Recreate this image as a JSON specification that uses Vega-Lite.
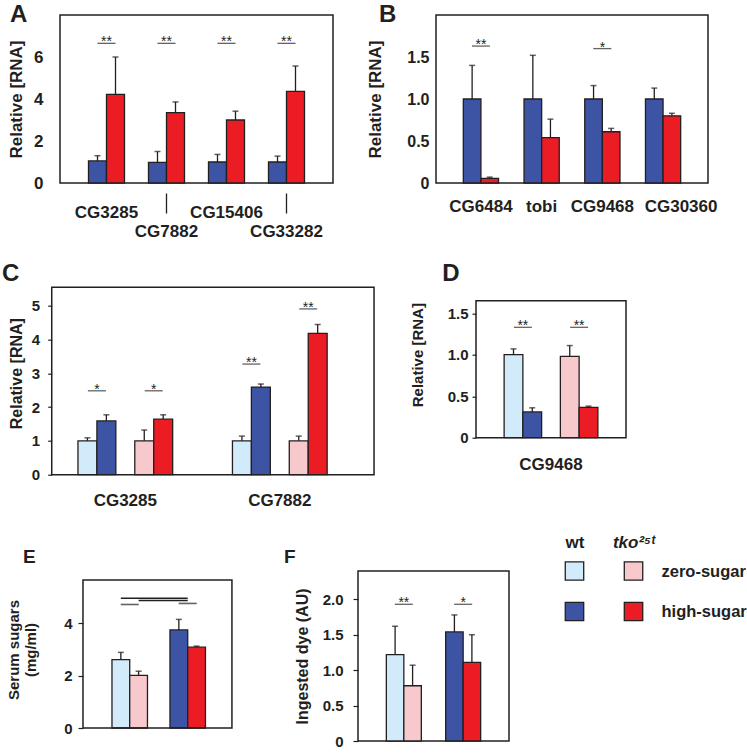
{
  "$schema": "https://vega.github.io/schema/vega-lite/v6.json",
  "background": "white",
  "padding": {"left": 2, "top": 2, "right": 0, "bottom": 0},
  "config": {
    "font": "Liberation Sans",
    "view": {"stroke": "#231F20", "strokeWidth": 1.5},
    "axis": {"grid": false, "domain": false, "labelFontWeight": "bold", "titleFontWeight": "bold", "labelColor": "#231F20", "titleColor": "#231F20", "tickColor": "#231F20", "tickWidth": 1.2, "labelFont": "Liberation Sans", "titleFont": "Liberation Sans"},
    "title": {"fontSize": 24, "fontWeight": "bold", "anchor": "start", "frame": "group", "offset": 0, "baseline": "alphabetic", "color": "#231F20", "font": "Liberation Sans"}
  },
  "datasets": {
    "A": [
      {"gene": "CG3285", "g": "wh", "v": 1.05, "hi": 1.3},
      {"gene": "CG3285", "g": "th", "v": 4.22, "hi": 6.0},
      {"gene": "CG7882", "g": "wh", "v": 0.98, "hi": 1.5},
      {"gene": "CG7882", "g": "th", "v": 3.35, "hi": 3.86},
      {"gene": "CG15406", "g": "wh", "v": 1.0, "hi": 1.36},
      {"gene": "CG15406", "g": "th", "v": 3.0, "hi": 3.42},
      {"gene": "CG33282", "g": "wh", "v": 1.0, "hi": 1.28},
      {"gene": "CG33282", "g": "th", "v": 4.36, "hi": 5.57}
    ],
    "Asig": [
      {"gene": "CG3285", "cmp": "pair", "y": 6.65, "s": "**"},
      {"gene": "CG7882", "cmp": "pair", "y": 6.65, "s": "**"},
      {"gene": "CG15406", "cmp": "pair", "y": 6.65, "s": "**"},
      {"gene": "CG33282", "cmp": "pair", "y": 6.65, "s": "**"}
    ],
    "B": [
      {"gene": "CG6484", "g": "wh", "v": 1.0, "hi": 1.4},
      {"gene": "CG6484", "g": "th", "v": 0.055, "hi": 0.07},
      {"gene": "tobi", "g": "wh", "v": 1.0, "hi": 1.52},
      {"gene": "tobi", "g": "th", "v": 0.54, "hi": 0.76},
      {"gene": "CG9468", "g": "wh", "v": 1.0, "hi": 1.16},
      {"gene": "CG9468", "g": "th", "v": 0.61, "hi": 0.65},
      {"gene": "CG30360", "g": "wh", "v": 1.0, "hi": 1.13},
      {"gene": "CG30360", "g": "th", "v": 0.8, "hi": 0.83}
    ],
    "Bsig": [
      {"gene": "CG6484", "cmp": "pair", "y": 1.63, "s": "**"},
      {"gene": "CG9468", "cmp": "pair", "y": 1.6, "s": "*"}
    ],
    "C": [
      {"gene": "CG3285", "g": "wz", "v": 1.0, "hi": 1.09},
      {"gene": "CG3285", "g": "wh", "v": 1.59, "hi": 1.77},
      {"gene": "CG3285", "g": "tz", "v": 1.0, "hi": 1.32},
      {"gene": "CG3285", "g": "th", "v": 1.64, "hi": 1.77},
      {"gene": "CG7882", "g": "wz", "v": 1.0, "hi": 1.14},
      {"gene": "CG7882", "g": "wh", "v": 2.59, "hi": 2.68},
      {"gene": "CG7882", "g": "tz", "v": 1.0, "hi": 1.14},
      {"gene": "CG7882", "g": "th", "v": 4.18, "hi": 4.44}
    ],
    "Csig": [
      {"gene": "CG3285", "geno": "wt", "y": 2.48, "s": "*"},
      {"gene": "CG3285", "geno": "tko", "y": 2.48, "s": "*"},
      {"gene": "CG7882", "geno": "wt", "y": 3.27, "s": "**"},
      {"gene": "CG7882", "geno": "tko", "y": 4.9, "s": "**"}
    ],
    "D": [
      {"gene": "CG9468", "g": "wz", "v": 1.0, "hi": 1.07},
      {"gene": "CG9468", "g": "wh", "v": 0.31, "hi": 0.36},
      {"gene": "CG9468", "g": "tz", "v": 0.98, "hi": 1.11},
      {"gene": "CG9468", "g": "th", "v": 0.365, "hi": 0.38}
    ],
    "Dsig": [
      {"gene": "CG9468", "geno": "wt", "y": 1.33, "s": "**"},
      {"gene": "CG9468", "geno": "tko", "y": 1.33, "s": "**"}
    ],
    "E": [
      {"sugar": "zero", "geno": "wt", "g": "wz", "v": 2.61, "hi": 2.89},
      {"sugar": "zero", "geno": "tko", "g": "tz", "v": 2.01, "hi": 2.17},
      {"sugar": "high", "geno": "wt", "g": "wh", "v": 3.75, "hi": 4.15},
      {"sugar": "high", "geno": "tko", "g": "th", "v": 3.09, "hi": 3.13}
    ],
    "Esig": [
      {"s1": "zero", "s2": "high", "geno": "wt", "y": 4.96},
      {"s1": "zero", "s2": "high", "geno": "tko", "y": 4.87}
    ],
    "Etick": [
      {"sugar": "zero", "cmp": "pair", "y": 4.72},
      {"sugar": "high", "cmp": "pair", "y": 4.76}
    ],
    "F": [
      {"sugar": "zero", "geno": "wt", "g": "wz", "v": 1.22, "hi": 1.62},
      {"sugar": "zero", "geno": "tko", "g": "tz", "v": 0.78, "hi": 1.07},
      {"sugar": "high", "geno": "wt", "g": "wh", "v": 1.54, "hi": 1.78},
      {"sugar": "high", "geno": "tko", "g": "th", "v": 1.11, "hi": 1.5}
    ],
    "Fsig": [
      {"sugar": "zero", "cmp": "pair", "y": 1.93, "s": "**"},
      {"sugar": "high", "cmp": "pair", "y": 1.93, "s": "*"}
    ],
    "L": [
      {"geno": "wt", "sugar": "zero", "g": "wz"},
      {"geno": "tko", "sugar": "zero", "g": "tz"},
      {"geno": "wt", "sugar": "high", "g": "wh"},
      {"geno": "tko", "sugar": "high", "g": "th"}
    ]
  },
  "spacing": 24,
  "vconcat": [
    {
      "spacing": 21.7,
      "vconcat": [
        {
          "spacing": 32,
          "hconcat": [
            {
              "title": {"text": "A", "dx": -50, "dy": 16},
              "width": 273, "height": 168,
              "resolve": {"scale": {"xOffset": "independent"}},
              "layer": [
                {
                  "data": {"name": "A"},
                  "layer": [
                    {
                      "mark": {"type": "bar", "stroke": "#231F20", "strokeWidth": 1.3},
                      "encoding": {
                        "x": {"field": "gene", "type": "nominal", "scale": {"domain": ["CG3285", "CG7882", "CG15406", "CG33282"], "paddingInner": 0.4, "paddingOuter": 0.475},
                          "axis": {"title": null, "labelAngle": 0, "labelFontSize": 17, "labelBaseline": "top", "ticks": true, "tickWidth": 1.3, "tickDash": [0, 10, 20, 0],
                            "tickSize": {"condition": {"test": "datum.value == 'CG7882' || datum.value == 'CG33282'", "value": 30}, "value": 0},
                            "labelPadding": {"condition": {"test": "datum.value == 'CG7882' || datum.value == 'CG33282'", "value": 10}, "value": 21}}},
                        "xOffset": {"field": "g", "type": "nominal", "scale": {"domain": ["wh", "th"]}},
                        "y": {"field": "v", "type": "quantitative", "scale": {"domain": [0, 7.43]},
                          "axis": {"values": [0, 2, 4, 6], "ticks": false, "labelPadding": 17, "labelFontSize": 17, "title": "Relative [RNA]", "titleFontSize": 17, "titlePadding": 8}},
                        "color": {"field": "g", "type": "nominal", "legend": null, "scale": {"domain": ["wz", "wh", "tz", "th"], "range": ["#D2EBFA", "#3D54A4", "#F7C9CD", "#EC1C24"]}}
                      }
                    },
                    {
                      "mark": {"type": "rule", "strokeWidth": 1.3, "color": "#231F20"},
                      "encoding": {"x": {"field": "gene", "type": "nominal"}, "xOffset": {"field": "g", "type": "nominal"}, "y": {"field": "v", "type": "quantitative"}, "y2": {"field": "hi"}}
                    },
                    {
                      "mark": {"type": "tick", "size": 6, "thickness": 1.5, "color": "#231F20"},
                      "encoding": {"x": {"field": "gene", "type": "nominal"}, "xOffset": {"field": "g", "type": "nominal"}, "y": {"field": "hi", "type": "quantitative"}}
                    }
                  ]
                },
                {
                  "data": {"name": "Asig"},
                  "layer": [
                    {
                      "mark": {"type": "tick", "size": 18, "thickness": 1.3, "color": "#231F20"},
                      "encoding": {"x": {"field": "gene", "type": "nominal"}, "xOffset": {"field": "cmp", "type": "nominal", "scale": {"domain": ["pair"], "paddingInner": 0, "paddingOuter": 0}}, "y": {"field": "y", "type": "quantitative"}}
                    },
                    {
                      "mark": {"type": "text", "fontSize": 14, "dy": 3, "baseline": "alphabetic", "color": "#231F20"},
                      "encoding": {"x": {"field": "gene", "type": "nominal"}, "xOffset": {"field": "cmp", "type": "nominal"}, "y": {"field": "y", "type": "quantitative"}, "text": {"field": "s"}}
                    }
                  ]
                }
              ]
            },
            {
              "title": {"text": "B", "dx": -57, "dy": 16},
              "width": 272, "height": 168,
              "resolve": {"scale": {"xOffset": "independent"}},
              "layer": [
                {
                  "data": {"name": "B"},
                  "layer": [
                    {
                      "mark": {"type": "bar", "stroke": "#231F20", "strokeWidth": 1.3},
                      "encoding": {
                        "x": {"field": "gene", "type": "nominal", "scale": {"domain": ["CG6484", "tobi", "CG9468", "CG30360"], "paddingInner": 0.42, "paddingOuter": 0.45},
                          "axis": {"title": null, "labelAngle": 0, "labelFontSize": 17, "ticks": false, "labelPadding": 15,
                            "labelOffset": {"condition": {"test": "datum.value == 'CG30360'", "value": 18}, "value": 0}}},
                        "xOffset": {"field": "g", "type": "nominal", "scale": {"domain": ["wh", "th"]}},
                        "y": {"field": "v", "type": "quantitative", "scale": {"domain": [0, 1.87]},
                          "axis": {"values": [0, 0.5, 1, 1.5], "labelExpr": "datum.value == 0 ? '0' : format(datum.value, '.1f')", "ticks": false, "labelPadding": 7, "labelFontSize": 16, "title": "Relative [RNA]", "titleFontSize": 17, "titlePadding": 22}},
                        "color": {"field": "g", "type": "nominal", "legend": null, "scale": {"domain": ["wz", "wh", "tz", "th"], "range": ["#D2EBFA", "#3D54A4", "#F7C9CD", "#EC1C24"]}}
                      }
                    },
                    {
                      "mark": {"type": "rule", "strokeWidth": 1.3, "color": "#231F20"},
                      "encoding": {"x": {"field": "gene", "type": "nominal"}, "xOffset": {"field": "g", "type": "nominal"}, "y": {"field": "v", "type": "quantitative"}, "y2": {"field": "hi"}}
                    },
                    {
                      "mark": {"type": "tick", "size": 6, "thickness": 1.5, "color": "#231F20"},
                      "encoding": {"x": {"field": "gene", "type": "nominal"}, "xOffset": {"field": "g", "type": "nominal"}, "y": {"field": "hi", "type": "quantitative"}}
                    }
                  ]
                },
                {
                  "data": {"name": "Bsig"},
                  "layer": [
                    {
                      "mark": {"type": "tick", "size": 18, "thickness": 1.3, "color": "#231F20"},
                      "encoding": {"x": {"field": "gene", "type": "nominal"}, "xOffset": {"field": "cmp", "type": "nominal", "scale": {"domain": ["pair"], "paddingInner": 0, "paddingOuter": 0}}, "y": {"field": "y", "type": "quantitative"}}
                    },
                    {
                      "mark": {"type": "text", "fontSize": 14, "dy": 3, "baseline": "alphabetic", "color": "#231F20"},
                      "encoding": {"x": {"field": "gene", "type": "nominal"}, "xOffset": {"field": "cmp", "type": "nominal"}, "y": {"field": "y", "type": "quantitative"}, "text": {"field": "s"}}
                    }
                  ]
                }
              ]
            }
          ]
        },
        {
          "spacing": 35,
          "hconcat": [
            {
              "title": {"text": "C", "dx": -58, "dy": 18.3},
              "width": 315, "height": 203,
              "view": {"stroke": null},
              "resolve": {"scale": {"xOffset": "independent"}},
              "layer": [
                {
                  "data": {"name": "C"},
                  "layer": [
                    {
                      "mark": {"type": "bar", "stroke": "#231F20", "strokeWidth": 1.3},
                      "encoding": {
                        "x": {"field": "gene", "type": "nominal", "scale": {"domain": ["CG3285", "CG7882"], "paddingInner": 0.387, "paddingOuter": 0.213, "align": 0.273},
                          "axis": {"title": null, "labelAngle": 0, "labelFontSize": 17, "ticks": false, "labelPadding": 18}},
                        "xOffset": {"field": "g", "type": "nominal", "scale": {"domain": ["wz", "wh", "gap", "tz", "th"]}},
                        "y": {"field": "v", "type": "quantitative", "scale": {"domain": [0, 5.54]},
                          "axis": {"offset": 8.3, "values": [0, 1, 2, 3, 4, 5], "ticks": true, "tickSize": 4, "labelPadding": 8, "labelFontSize": 15, "title": "Relative [RNA]", "titleFontSize": 16, "titlePadding": 7}},
                        "color": {"field": "g", "type": "nominal", "legend": null, "scale": {"domain": ["wz", "wh", "tz", "th"], "range": ["#D2EBFA", "#3D54A4", "#F7C9CD", "#EC1C24"]}}
                      }
                    },
                    {
                      "mark": {"type": "rule", "strokeWidth": 1.3, "color": "#231F20"},
                      "encoding": {"x": {"field": "gene", "type": "nominal"}, "xOffset": {"field": "g", "type": "nominal"}, "y": {"field": "v", "type": "quantitative"}, "y2": {"field": "hi"}}
                    },
                    {
                      "mark": {"type": "tick", "size": 6, "thickness": 1.5, "color": "#231F20"},
                      "encoding": {"x": {"field": "gene", "type": "nominal"}, "xOffset": {"field": "g", "type": "nominal"}, "y": {"field": "hi", "type": "quantitative"}}
                    }
                  ]
                },
                {
                  "data": {"values": [{}]},
                  "mark": {"type": "rect", "filled": false, "color": "#231F20", "strokeWidth": 1.5},
                  "encoding": {
                    "x": {"datum": "CG3285", "type": "nominal", "bandPosition": -0.277},
                    "x2": {"datum": "CG7882", "bandPosition": 1.495},
                    "y": {"datum": 5.54, "type": "quantitative"},
                    "y2": {"datum": 0}
                  }
                },
                {
                  "data": {"name": "Csig"},
                  "layer": [
                    {
                      "mark": {"type": "tick", "size": 18, "thickness": 1.3, "color": "#231F20"},
                      "encoding": {"x": {"field": "gene", "type": "nominal"}, "xOffset": {"field": "geno", "type": "nominal", "scale": {"domain": ["wt", "tko"], "paddingInner": 0.3333, "paddingOuter": 0}}, "y": {"field": "y", "type": "quantitative"}}
                    },
                    {
                      "mark": {"type": "text", "fontSize": 14, "dy": 3, "baseline": "alphabetic", "color": "#231F20"},
                      "encoding": {"x": {"field": "gene", "type": "nominal"}, "xOffset": {"field": "geno", "type": "nominal"}, "y": {"field": "y", "type": "quantitative"}, "text": {"field": "s"}}
                    }
                  ]
                }
              ]
            },
            {
              "title": {"text": "D", "dx": -33.7, "dy": 18.3},
              "width": 150, "height": 166,
              "view": {"stroke": null},
              "resolve": {"scale": {"xOffset": "independent"}},
              "layer": [
                {
                  "data": {"name": "D"},
                  "layer": [
                    {
                      "mark": {"type": "bar", "stroke": "#231F20", "strokeWidth": 1.3},
                      "encoding": {
                        "x": {"field": "gene", "type": "nominal", "scale": {"domain": ["CG9468"], "paddingInner": 0, "paddingOuter": 0.3},
                          "axis": {"title": null, "labelAngle": 0, "labelFontSize": 17, "ticks": false, "labelPadding": 19}},
                        "xOffset": {"field": "g", "type": "nominal", "scale": {"domain": ["wz", "wh", "gap", "tz", "th"]}},
                        "y": {"field": "v", "type": "quantitative", "scale": {"domain": [0, 1.814]},
                          "axis": {"values": [0, 0.5, 1, 1.5], "labelExpr": "datum.value == 0 ? '0' : format(datum.value, '.1f')", "ticks": true, "tickSize": 4, "labelPadding": 4, "labelFontSize": 15, "title": "Relative [RNA]", "titleFontSize": 15, "titlePadding": 22}},
                        "color": {"field": "g", "type": "nominal", "legend": null, "scale": {"domain": ["wz", "wh", "tz", "th"], "range": ["#D2EBFA", "#3D54A4", "#F7C9CD", "#EC1C24"]}}
                      }
                    },
                    {
                      "mark": {"type": "rule", "strokeWidth": 1.3, "color": "#231F20"},
                      "encoding": {"x": {"field": "gene", "type": "nominal"}, "xOffset": {"field": "g", "type": "nominal"}, "y": {"field": "v", "type": "quantitative"}, "y2": {"field": "hi"}}
                    },
                    {
                      "mark": {"type": "tick", "size": 6, "thickness": 1.5, "color": "#231F20"},
                      "encoding": {"x": {"field": "gene", "type": "nominal"}, "xOffset": {"field": "g", "type": "nominal"}, "y": {"field": "hi", "type": "quantitative"}}
                    }
                  ]
                },
                {
                  "data": {"values": [{}]},
                  "mark": {"type": "rect", "filled": false, "color": "#231F20", "strokeWidth": 1.5},
                  "encoding": {
                    "y": {"datum": 1.65, "type": "quantitative"},
                    "y2": {"datum": 0}
                  }
                },
                {
                  "data": {"name": "Dsig"},
                  "layer": [
                    {
                      "mark": {"type": "tick", "size": 18, "thickness": 1.3, "color": "#231F20"},
                      "encoding": {"x": {"field": "gene", "type": "nominal"}, "xOffset": {"field": "geno", "type": "nominal", "scale": {"domain": ["wt", "tko"], "paddingInner": 0.3333, "paddingOuter": 0}}, "y": {"field": "y", "type": "quantitative"}}
                    },
                    {
                      "mark": {"type": "text", "fontSize": 14, "dy": 3, "baseline": "alphabetic", "color": "#231F20"},
                      "encoding": {"x": {"field": "gene", "type": "nominal"}, "xOffset": {"field": "geno", "type": "nominal"}, "y": {"field": "y", "type": "quantitative"}, "text": {"field": "s"}}
                    }
                  ]
                }
              ]
            }
          ]
        }
      ]
    },
    {
      "spacing": 50,
      "hconcat": [
        {
          "title": {"text": "E", "dx": -37, "dy": 0, "fontSize": 19},
          "width": 172, "height": 157,
          "view": {"stroke": null},
          "resolve": {"scale": {"xOffset": "independent"}},
          "layer": [
            {
              "data": {"name": "E"},
              "layer": [
                {
                  "mark": {"type": "bar", "stroke": "#231F20", "strokeWidth": 1.3},
                  "encoding": {
                    "x": {"field": "sugar", "type": "nominal", "scale": {"domain": ["zero", "high"], "paddingInner": 0.388, "paddingOuter": 0.677, "align": 0.662}, "axis": null},
                    "xOffset": {"field": "geno", "type": "nominal", "scale": {"domain": ["wt", "tko"]}},
                    "y": {"field": "v", "type": "quantitative", "scale": {"domain": [0, 5.66]},
                      "axis": {"offset": -23, "values": [0, 1, 2, 3, 4, 5], "ticks": true, "tickSize": 5, "labelPadding": 6, "labelFontSize": 15, "title": ["Serum sugars", "(mg/ml)"], "titleFontSize": 15, "titlePadding": 25}},
                    "color": {"field": "g", "type": "nominal", "legend": null, "scale": {"domain": ["wz", "wh", "tz", "th"], "range": ["#D2EBFA", "#3D54A4", "#F7C9CD", "#EC1C24"]}}
                  }
                },
                {
                  "mark": {"type": "rule", "strokeWidth": 1.3, "color": "#231F20"},
                  "encoding": {"x": {"field": "sugar", "type": "nominal"}, "xOffset": {"field": "geno", "type": "nominal"}, "y": {"field": "v", "type": "quantitative"}, "y2": {"field": "hi"}}
                },
                {
                  "mark": {"type": "tick", "size": 6, "thickness": 1.5, "color": "#231F20"},
                  "encoding": {"x": {"field": "sugar", "type": "nominal"}, "xOffset": {"field": "geno", "type": "nominal"}, "y": {"field": "hi", "type": "quantitative"}}
                }
              ]
            },
            {
              "data": {"values": [{}]},
              "mark": {"type": "rect", "filled": false, "color": "#231F20", "strokeWidth": 1.5},
              "encoding": {
                "x": {"datum": "zero", "type": "nominal", "bandPosition": -0.817},
                "x2": {"datum": "high", "bandPosition": 1.746},
                "y": {"datum": 5.66, "type": "quantitative"},
                "y2": {"datum": 0}
              }
            },
            {
              "data": {"name": "Esig"},
              "mark": {"type": "rule", "strokeWidth": 1.6, "color": "#231F20"},
              "encoding": {"x": {"field": "s1", "type": "nominal"}, "x2": {"field": "s2"}, "xOffset": {"field": "geno", "type": "nominal", "scale": {"domain": ["wt", "tko"]}}, "y": {"field": "y", "type": "quantitative"}}
            },
            {
              "data": {"name": "Etick"},
              "mark": {"type": "tick", "size": 18, "thickness": 1.6, "color": "#231F20"},
              "encoding": {"x": {"field": "sugar", "type": "nominal"}, "xOffset": {"field": "cmp", "type": "nominal", "scale": {"domain": ["pair"], "paddingInner": 0, "paddingOuter": 0}}, "y": {"field": "y", "type": "quantitative"}}
            }
          ]
        },
        {
          "spacing": 44,
          "hconcat": [
            {
              "title": {"text": "F", "dx": -74, "dy": 0, "fontSize": 19},
              "width": 151, "height": 170,
              "resolve": {"scale": {"xOffset": "independent"}},
              "layer": [
                {
                  "data": {"name": "F"},
                  "layer": [
                    {
                      "mark": {"type": "bar", "stroke": "#231F20", "strokeWidth": 1.3},
                      "encoding": {
                        "x": {"field": "sugar", "type": "nominal", "scale": {"domain": ["zero", "high"], "paddingInner": 0.41, "paddingOuter": 0.478}, "axis": null},
                        "xOffset": {"field": "geno", "type": "nominal", "scale": {"domain": ["wt", "tko"]}},
                        "y": {"field": "v", "type": "quantitative", "scale": {"domain": [0, 2.22]},
                          "axis": {"values": [0, 0.5, 1, 1.5, 2], "labelExpr": "datum.value == 0 ? '0' : format(datum.value, '.1f')", "ticks": true, "tickSize": 5, "labelPadding": 10, "labelFontSize": 15, "title": "Ingested dye (AU)", "titleFontSize": 16, "titlePadding": 12}},
                        "color": {"field": "g", "type": "nominal", "legend": null, "scale": {"domain": ["wz", "wh", "tz", "th"], "range": ["#D2EBFA", "#3D54A4", "#F7C9CD", "#EC1C24"]}}
                      }
                    },
                    {
                      "mark": {"type": "rule", "strokeWidth": 1.3, "color": "#231F20"},
                      "encoding": {"x": {"field": "sugar", "type": "nominal"}, "xOffset": {"field": "geno", "type": "nominal"}, "y": {"field": "v", "type": "quantitative"}, "y2": {"field": "hi"}}
                    },
                    {
                      "mark": {"type": "tick", "size": 6, "thickness": 1.5, "color": "#231F20"},
                      "encoding": {"x": {"field": "sugar", "type": "nominal"}, "xOffset": {"field": "geno", "type": "nominal"}, "y": {"field": "hi", "type": "quantitative"}}
                    }
                  ]
                },
                {
                  "data": {"name": "Fsig"},
                  "layer": [
                    {
                      "mark": {"type": "tick", "size": 18, "thickness": 1.3, "color": "#231F20"},
                      "encoding": {"x": {"field": "sugar", "type": "nominal"}, "xOffset": {"field": "cmp", "type": "nominal", "scale": {"domain": ["pair"], "paddingInner": 0, "paddingOuter": 0}}, "y": {"field": "y", "type": "quantitative"}}
                    },
                    {
                      "mark": {"type": "text", "fontSize": 14, "dy": 3, "baseline": "alphabetic", "color": "#231F20"},
                      "encoding": {"x": {"field": "sugar", "type": "nominal"}, "xOffset": {"field": "cmp", "type": "nominal"}, "y": {"field": "y", "type": "quantitative"}, "text": {"field": "s"}}
                    }
                  ]
                }
              ]
            },
            {
              "data": {"name": "L"},
              "width": 100, "height": 40.5,
              "view": {"stroke": null},
              "mark": {"type": "square", "size": 340, "filled": true, "opacity": 1, "stroke": "#231F20", "strokeWidth": 1.3},
              "encoding": {
                "x": {"field": "geno", "type": "nominal", "scale": {"type": "point", "domain": ["wt", "tko"], "padding": 0.347},
                  "axis": {"orient": "top", "title": null, "ticks": false, "labelPadding": 20, "labelFontSize": 17, "labelAngle": 0,
                    "labelExpr": "datum.value == 'tko' ? 'tko\u00b2\u2075\u1d57' : 'wt'",
                    "labelFontStyle": {"condition": {"test": "datum.value == 'tko'", "value": "italic"}, "value": "normal"}}},
                "y": {"field": "sugar", "type": "nominal", "scale": {"type": "point", "domain": ["zero", "high"], "padding": 0},
                  "axis": {"orient": "right", "title": null, "ticks": false, "labelPadding": 7, "labelFontSize": 16.5, "labelAlign": "left",
                    "labelExpr": "datum.value == 'zero' ? 'zero-sugar' : 'high-sugar'"}},
                "color": {"field": "g", "type": "nominal", "legend": null, "scale": {"domain": ["wz", "wh", "tz", "th"], "range": ["#D2EBFA", "#3D54A4", "#F7C9CD", "#EC1C24"]}}
              }
            }
          ]
        }
      ]
    }
  ]
}
